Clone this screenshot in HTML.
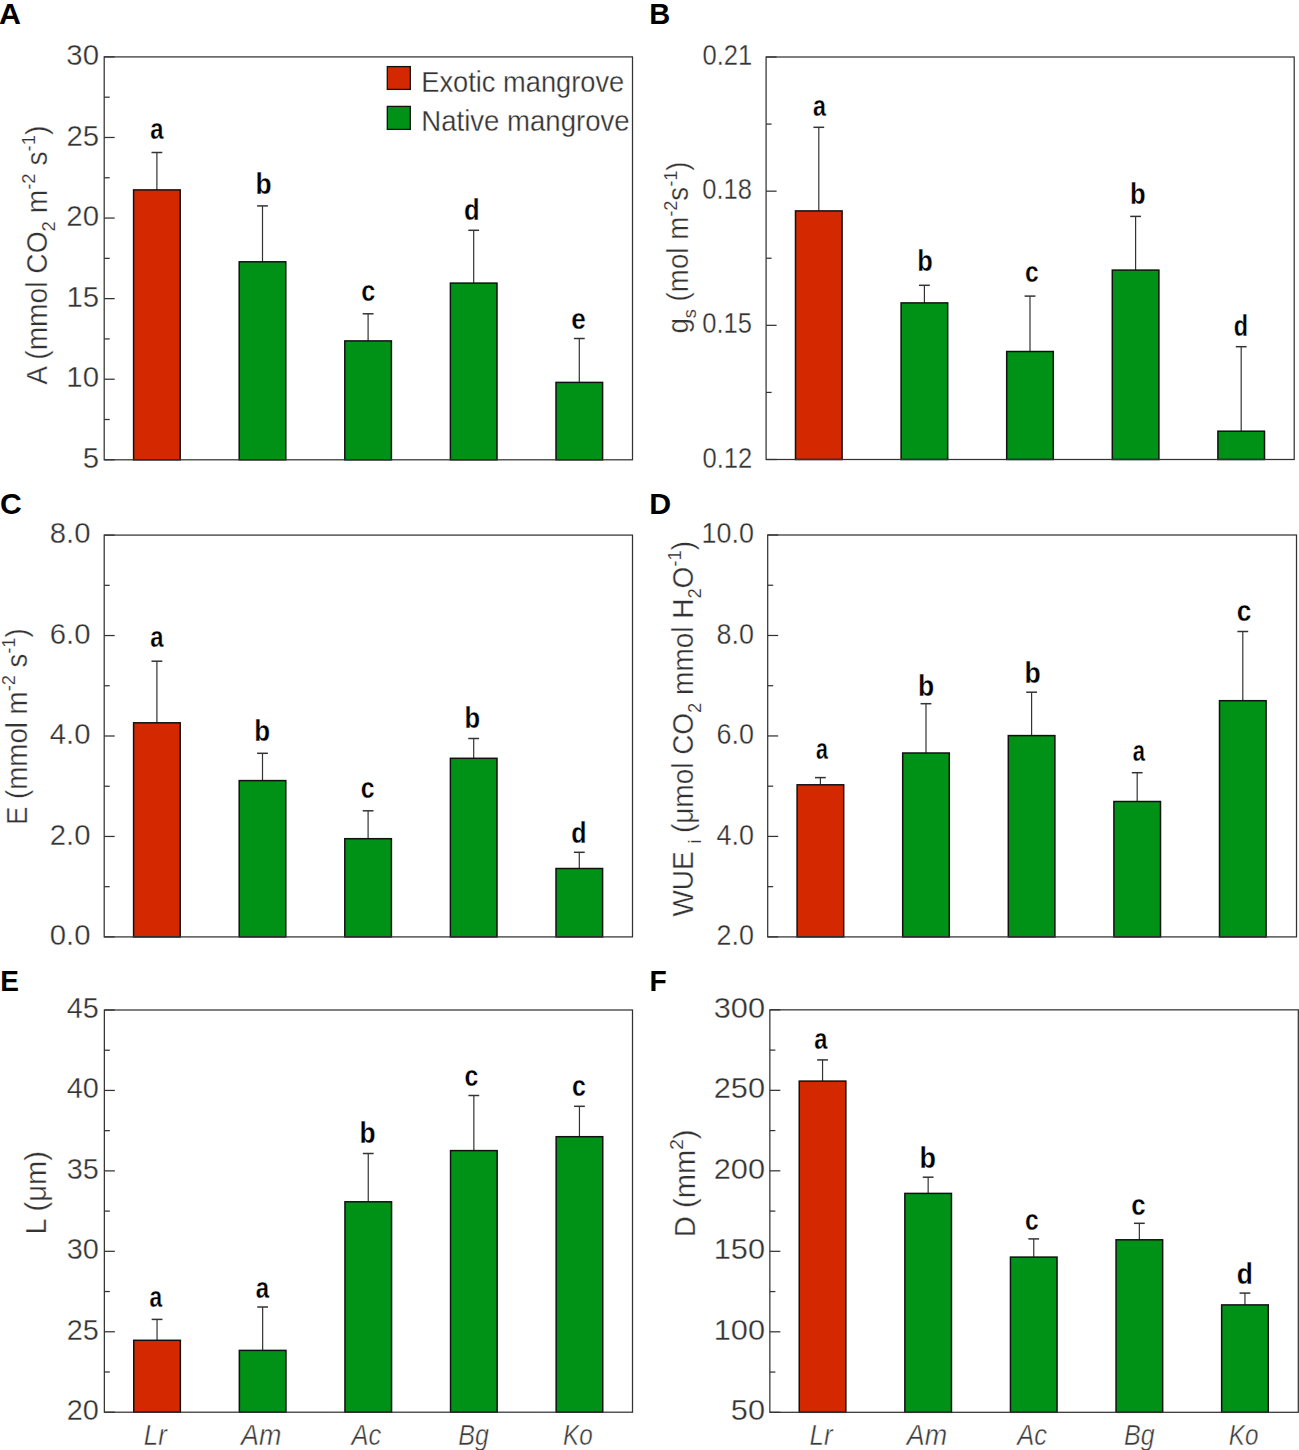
<!DOCTYPE html><html><head><meta charset="utf-8"><title>Figure</title><style>html,body{margin:0;padding:0;background:#fff;}svg{display:block;}.t{fill:#333;stroke:#fff;stroke-width:0.3px;}.ti{fill:#3a3a3a;stroke:#fff;stroke-width:0.45px;}</style></head><body>
<svg width="1299" height="1450" viewBox="0 0 1299 1450" font-family="Liberation Sans, sans-serif">
<rect x="0" y="0" width="1299" height="1450" fill="#ffffff"/>
<g id="panelA">
<line x1="156.90" y1="189.90" x2="156.90" y2="152.50" stroke="#333333" stroke-width="1.2"/>
<line x1="151.50" y1="152.50" x2="162.30" y2="152.50" stroke="#333333" stroke-width="1.5"/>
<rect x="133.60" y="189.90" width="46.60" height="269.90" fill="#d42800" stroke="#111" stroke-width="1.5"/>
<text x="150.20" y="138.61" font-size="29.5" font-weight="bold" fill="#000" stroke="#fff" stroke-width="0.3" textLength="13.25" lengthAdjust="spacingAndGlyphs">a</text>
<line x1="262.50" y1="261.80" x2="262.50" y2="205.90" stroke="#333333" stroke-width="1.2"/>
<line x1="257.10" y1="205.90" x2="267.90" y2="205.90" stroke="#333333" stroke-width="1.5"/>
<rect x="239.20" y="261.80" width="46.60" height="198.00" fill="#009216" stroke="#111" stroke-width="1.5"/>
<text x="255.46" y="193.71" font-size="29.5" font-weight="bold" fill="#000" stroke="#fff" stroke-width="0.3" textLength="16.12" lengthAdjust="spacingAndGlyphs">b</text>
<line x1="368.10" y1="340.90" x2="368.10" y2="313.80" stroke="#333333" stroke-width="1.2"/>
<line x1="362.70" y1="313.80" x2="373.50" y2="313.80" stroke="#333333" stroke-width="1.5"/>
<rect x="344.80" y="340.90" width="46.60" height="118.90" fill="#009216" stroke="#111" stroke-width="1.5"/>
<text x="361.22" y="301.21" font-size="29.5" font-weight="bold" fill="#000" stroke="#fff" stroke-width="0.3" textLength="14.02" lengthAdjust="spacingAndGlyphs">c</text>
<line x1="473.70" y1="283.10" x2="473.70" y2="230.30" stroke="#333333" stroke-width="1.2"/>
<line x1="468.30" y1="230.30" x2="479.10" y2="230.30" stroke="#333333" stroke-width="1.5"/>
<rect x="450.40" y="283.10" width="46.60" height="176.70" fill="#009216" stroke="#111" stroke-width="1.5"/>
<text x="464.05" y="219.91" font-size="29.5" font-weight="bold" fill="#000" stroke="#fff" stroke-width="0.3" textLength="15.64" lengthAdjust="spacingAndGlyphs">d</text>
<line x1="579.30" y1="382.40" x2="579.30" y2="338.50" stroke="#333333" stroke-width="1.2"/>
<line x1="573.90" y1="338.50" x2="584.70" y2="338.50" stroke="#333333" stroke-width="1.5"/>
<rect x="556.00" y="382.40" width="46.60" height="77.40" fill="#009216" stroke="#111" stroke-width="1.5"/>
<text x="571.18" y="329.21" font-size="29.5" font-weight="bold" fill="#000" stroke="#fff" stroke-width="0.3" textLength="14.51" lengthAdjust="spacingAndGlyphs">e</text>
<rect x="104.20" y="56.90" width="528.30" height="402.90" fill="none" stroke="#333333" stroke-width="1.25"/>
<line x1="104.20" y1="459.80" x2="114.70" y2="459.80" stroke="#333333" stroke-width="1.25"/>
<line x1="104.20" y1="419.51" x2="109.70" y2="419.51" stroke="#333333" stroke-width="1.25"/>
<line x1="104.20" y1="379.22" x2="114.70" y2="379.22" stroke="#333333" stroke-width="1.25"/>
<line x1="104.20" y1="338.93" x2="109.70" y2="338.93" stroke="#333333" stroke-width="1.25"/>
<line x1="104.20" y1="298.64" x2="114.70" y2="298.64" stroke="#333333" stroke-width="1.25"/>
<line x1="104.20" y1="258.35" x2="109.70" y2="258.35" stroke="#333333" stroke-width="1.25"/>
<line x1="104.20" y1="218.06" x2="114.70" y2="218.06" stroke="#333333" stroke-width="1.25"/>
<line x1="104.20" y1="177.77" x2="109.70" y2="177.77" stroke="#333333" stroke-width="1.25"/>
<line x1="104.20" y1="137.48" x2="114.70" y2="137.48" stroke="#333333" stroke-width="1.25"/>
<line x1="104.20" y1="97.19" x2="109.70" y2="97.19" stroke="#333333" stroke-width="1.25"/>
<line x1="104.20" y1="56.90" x2="114.70" y2="56.90" stroke="#333333" stroke-width="1.25"/>
<text x="99.13" y="468.00" font-size="29" text-anchor="end" class="t" textLength="16.33" lengthAdjust="spacingAndGlyphs">5</text>
<text x="99.05" y="387.42" font-size="29" text-anchor="end" class="t" textLength="32.67" lengthAdjust="spacingAndGlyphs">10</text>
<text x="99.13" y="306.84" font-size="29" text-anchor="end" class="t" textLength="32.67" lengthAdjust="spacingAndGlyphs">15</text>
<text x="99.05" y="226.26" font-size="29" text-anchor="end" class="t" textLength="32.67" lengthAdjust="spacingAndGlyphs">20</text>
<text x="99.13" y="145.68" font-size="29" text-anchor="end" class="t" textLength="32.67" lengthAdjust="spacingAndGlyphs">25</text>
<text x="99.05" y="65.10" font-size="29" text-anchor="end" class="t" textLength="32.67" lengthAdjust="spacingAndGlyphs">30</text>
</g>
<g id="panelB">
<line x1="818.80" y1="210.90" x2="818.80" y2="127.30" stroke="#333333" stroke-width="1.2"/>
<line x1="813.40" y1="127.30" x2="824.20" y2="127.30" stroke="#333333" stroke-width="1.5"/>
<rect x="795.50" y="210.90" width="46.60" height="248.60" fill="#d42800" stroke="#111" stroke-width="1.5"/>
<text x="812.92" y="115.81" font-size="29.5" font-weight="bold" fill="#000" stroke="#fff" stroke-width="0.3" textLength="12.93" lengthAdjust="spacingAndGlyphs">a</text>
<line x1="924.40" y1="302.90" x2="924.40" y2="285.30" stroke="#333333" stroke-width="1.2"/>
<line x1="919.00" y1="285.30" x2="929.80" y2="285.30" stroke="#333333" stroke-width="1.5"/>
<rect x="901.10" y="302.90" width="46.60" height="156.60" fill="#009216" stroke="#111" stroke-width="1.5"/>
<text x="917.13" y="270.51" font-size="29.5" font-weight="bold" fill="#000" stroke="#fff" stroke-width="0.3" textLength="15.52" lengthAdjust="spacingAndGlyphs">b</text>
<line x1="1030.00" y1="351.50" x2="1030.00" y2="296.10" stroke="#333333" stroke-width="1.2"/>
<line x1="1024.60" y1="296.10" x2="1035.40" y2="296.10" stroke="#333333" stroke-width="1.5"/>
<rect x="1006.70" y="351.50" width="46.60" height="108.00" fill="#009216" stroke="#111" stroke-width="1.5"/>
<text x="1024.94" y="282.21" font-size="29.5" font-weight="bold" fill="#000" stroke="#fff" stroke-width="0.3" textLength="13.68" lengthAdjust="spacingAndGlyphs">c</text>
<line x1="1135.60" y1="270.10" x2="1135.60" y2="216.40" stroke="#333333" stroke-width="1.2"/>
<line x1="1130.20" y1="216.40" x2="1141.00" y2="216.40" stroke="#333333" stroke-width="1.5"/>
<rect x="1112.30" y="270.10" width="46.60" height="189.40" fill="#009216" stroke="#111" stroke-width="1.5"/>
<text x="1130.11" y="204.11" font-size="29.5" font-weight="bold" fill="#000" stroke="#fff" stroke-width="0.3" textLength="15.64" lengthAdjust="spacingAndGlyphs">b</text>
<line x1="1241.20" y1="431.20" x2="1241.20" y2="346.70" stroke="#333333" stroke-width="1.2"/>
<line x1="1235.80" y1="346.70" x2="1246.60" y2="346.70" stroke="#333333" stroke-width="1.5"/>
<rect x="1217.90" y="431.20" width="46.60" height="28.30" fill="#009216" stroke="#111" stroke-width="1.5"/>
<text x="1233.84" y="335.91" font-size="29.5" font-weight="bold" fill="#000" stroke="#fff" stroke-width="0.3" textLength="14.30" lengthAdjust="spacingAndGlyphs">d</text>
<rect x="766.10" y="57.00" width="528.10" height="402.50" fill="none" stroke="#333333" stroke-width="1.25"/>
<line x1="766.10" y1="459.50" x2="776.60" y2="459.50" stroke="#333333" stroke-width="1.25"/>
<line x1="766.10" y1="392.42" x2="771.60" y2="392.42" stroke="#333333" stroke-width="1.25"/>
<line x1="766.10" y1="325.33" x2="776.60" y2="325.33" stroke="#333333" stroke-width="1.25"/>
<line x1="766.10" y1="258.25" x2="771.60" y2="258.25" stroke="#333333" stroke-width="1.25"/>
<line x1="766.10" y1="191.17" x2="776.60" y2="191.17" stroke="#333333" stroke-width="1.25"/>
<line x1="766.10" y1="124.08" x2="771.60" y2="124.08" stroke="#333333" stroke-width="1.25"/>
<line x1="766.10" y1="57.00" x2="776.60" y2="57.00" stroke="#333333" stroke-width="1.25"/>
<text x="752.18" y="467.50" font-size="29" text-anchor="end" class="t" textLength="49.71" lengthAdjust="spacingAndGlyphs">0.12</text>
<text x="751.97" y="333.33" font-size="29" text-anchor="end" class="t" textLength="49.71" lengthAdjust="spacingAndGlyphs">0.15</text>
<text x="752.01" y="199.17" font-size="29" text-anchor="end" class="t" textLength="49.71" lengthAdjust="spacingAndGlyphs">0.18</text>
<text x="752.15" y="65.00" font-size="29" text-anchor="end" class="t" textLength="49.71" lengthAdjust="spacingAndGlyphs">0.21</text>
</g>
<g id="panelC">
<line x1="156.90" y1="722.80" x2="156.90" y2="661.20" stroke="#333333" stroke-width="1.2"/>
<line x1="151.50" y1="661.20" x2="162.30" y2="661.20" stroke="#333333" stroke-width="1.5"/>
<rect x="133.60" y="722.80" width="46.60" height="214.10" fill="#d42800" stroke="#111" stroke-width="1.5"/>
<text x="150.20" y="646.91" font-size="29.5" font-weight="bold" fill="#000" stroke="#fff" stroke-width="0.3" textLength="13.25" lengthAdjust="spacingAndGlyphs">a</text>
<line x1="262.50" y1="780.60" x2="262.50" y2="753.30" stroke="#333333" stroke-width="1.2"/>
<line x1="257.10" y1="753.30" x2="267.90" y2="753.30" stroke="#333333" stroke-width="1.5"/>
<rect x="239.20" y="780.60" width="46.60" height="156.30" fill="#009216" stroke="#111" stroke-width="1.5"/>
<text x="254.19" y="740.51" font-size="29.5" font-weight="bold" fill="#000" stroke="#fff" stroke-width="0.3" textLength="15.88" lengthAdjust="spacingAndGlyphs">b</text>
<line x1="368.10" y1="838.70" x2="368.10" y2="810.80" stroke="#333333" stroke-width="1.2"/>
<line x1="362.70" y1="810.80" x2="373.50" y2="810.80" stroke="#333333" stroke-width="1.5"/>
<rect x="344.80" y="838.70" width="46.60" height="98.20" fill="#009216" stroke="#111" stroke-width="1.5"/>
<text x="360.83" y="798.11" font-size="29.5" font-weight="bold" fill="#000" stroke="#fff" stroke-width="0.3" textLength="13.80" lengthAdjust="spacingAndGlyphs">c</text>
<line x1="473.70" y1="758.30" x2="473.70" y2="738.50" stroke="#333333" stroke-width="1.2"/>
<line x1="468.30" y1="738.50" x2="479.10" y2="738.50" stroke="#333333" stroke-width="1.5"/>
<rect x="450.40" y="758.30" width="46.60" height="178.60" fill="#009216" stroke="#111" stroke-width="1.5"/>
<text x="464.41" y="727.51" font-size="29.5" font-weight="bold" fill="#000" stroke="#fff" stroke-width="0.3" textLength="15.64" lengthAdjust="spacingAndGlyphs">b</text>
<line x1="579.30" y1="868.50" x2="579.30" y2="852.30" stroke="#333333" stroke-width="1.2"/>
<line x1="573.90" y1="852.30" x2="584.70" y2="852.30" stroke="#333333" stroke-width="1.5"/>
<rect x="556.00" y="868.50" width="46.60" height="68.40" fill="#009216" stroke="#111" stroke-width="1.5"/>
<text x="571.17" y="843.11" font-size="29.5" font-weight="bold" fill="#000" stroke="#fff" stroke-width="0.3" textLength="15.27" lengthAdjust="spacingAndGlyphs">d</text>
<rect x="104.20" y="535.10" width="528.30" height="401.80" fill="none" stroke="#333333" stroke-width="1.25"/>
<line x1="104.20" y1="936.90" x2="114.70" y2="936.90" stroke="#333333" stroke-width="1.25"/>
<line x1="104.20" y1="886.67" x2="109.70" y2="886.67" stroke="#333333" stroke-width="1.25"/>
<line x1="104.20" y1="836.45" x2="114.70" y2="836.45" stroke="#333333" stroke-width="1.25"/>
<line x1="104.20" y1="786.23" x2="109.70" y2="786.23" stroke="#333333" stroke-width="1.25"/>
<line x1="104.20" y1="736.00" x2="114.70" y2="736.00" stroke="#333333" stroke-width="1.25"/>
<line x1="104.20" y1="685.77" x2="109.70" y2="685.77" stroke="#333333" stroke-width="1.25"/>
<line x1="104.20" y1="635.55" x2="114.70" y2="635.55" stroke="#333333" stroke-width="1.25"/>
<line x1="104.20" y1="585.33" x2="109.70" y2="585.33" stroke="#333333" stroke-width="1.25"/>
<line x1="104.20" y1="535.10" x2="114.70" y2="535.10" stroke="#333333" stroke-width="1.25"/>
<text x="90.44" y="945.10" font-size="29" text-anchor="end" class="t" textLength="40.72" lengthAdjust="spacingAndGlyphs">0.0</text>
<text x="90.44" y="844.65" font-size="29" text-anchor="end" class="t" textLength="40.72" lengthAdjust="spacingAndGlyphs">2.0</text>
<text x="90.44" y="744.20" font-size="29" text-anchor="end" class="t" textLength="40.72" lengthAdjust="spacingAndGlyphs">4.0</text>
<text x="90.44" y="643.75" font-size="29" text-anchor="end" class="t" textLength="40.72" lengthAdjust="spacingAndGlyphs">6.0</text>
<text x="90.44" y="543.30" font-size="29" text-anchor="end" class="t" textLength="40.72" lengthAdjust="spacingAndGlyphs">8.0</text>
</g>
<g id="panelD">
<line x1="820.40" y1="784.80" x2="820.40" y2="777.60" stroke="#333333" stroke-width="1.2"/>
<line x1="815.00" y1="777.60" x2="825.80" y2="777.60" stroke="#333333" stroke-width="1.5"/>
<rect x="797.10" y="784.80" width="46.60" height="152.10" fill="#d42800" stroke="#111" stroke-width="1.5"/>
<text x="815.97" y="759.11" font-size="29.5" font-weight="bold" fill="#000" stroke="#fff" stroke-width="0.3" textLength="11.89" lengthAdjust="spacingAndGlyphs">a</text>
<line x1="926.00" y1="753.00" x2="926.00" y2="703.70" stroke="#333333" stroke-width="1.2"/>
<line x1="920.60" y1="703.70" x2="931.40" y2="703.70" stroke="#333333" stroke-width="1.5"/>
<rect x="902.70" y="753.00" width="46.60" height="183.90" fill="#009216" stroke="#111" stroke-width="1.5"/>
<text x="918.05" y="695.81" font-size="29.5" font-weight="bold" fill="#000" stroke="#fff" stroke-width="0.3" textLength="16.24" lengthAdjust="spacingAndGlyphs">b</text>
<line x1="1031.60" y1="735.60" x2="1031.60" y2="692.20" stroke="#333333" stroke-width="1.2"/>
<line x1="1026.20" y1="692.20" x2="1037.00" y2="692.20" stroke="#333333" stroke-width="1.5"/>
<rect x="1008.30" y="735.60" width="46.60" height="201.30" fill="#009216" stroke="#111" stroke-width="1.5"/>
<text x="1024.55" y="682.61" font-size="29.5" font-weight="bold" fill="#000" stroke="#fff" stroke-width="0.3" textLength="16.24" lengthAdjust="spacingAndGlyphs">b</text>
<line x1="1137.20" y1="801.50" x2="1137.20" y2="772.70" stroke="#333333" stroke-width="1.2"/>
<line x1="1131.80" y1="772.70" x2="1142.60" y2="772.70" stroke="#333333" stroke-width="1.5"/>
<rect x="1113.90" y="801.50" width="46.60" height="135.40" fill="#009216" stroke="#111" stroke-width="1.5"/>
<text x="1132.76" y="760.51" font-size="29.5" font-weight="bold" fill="#000" stroke="#fff" stroke-width="0.3" textLength="12.20" lengthAdjust="spacingAndGlyphs">a</text>
<line x1="1242.80" y1="700.70" x2="1242.80" y2="631.50" stroke="#333333" stroke-width="1.2"/>
<line x1="1237.40" y1="631.50" x2="1248.20" y2="631.50" stroke="#333333" stroke-width="1.5"/>
<rect x="1219.50" y="700.70" width="46.60" height="236.20" fill="#009216" stroke="#111" stroke-width="1.5"/>
<text x="1236.77" y="620.91" font-size="29.5" font-weight="bold" fill="#000" stroke="#fff" stroke-width="0.3" textLength="14.59" lengthAdjust="spacingAndGlyphs">c</text>
<rect x="767.70" y="535.00" width="528.80" height="401.90" fill="none" stroke="#333333" stroke-width="1.25"/>
<line x1="767.70" y1="936.90" x2="778.20" y2="936.90" stroke="#333333" stroke-width="1.25"/>
<line x1="767.70" y1="886.66" x2="773.20" y2="886.66" stroke="#333333" stroke-width="1.25"/>
<line x1="767.70" y1="836.42" x2="778.20" y2="836.42" stroke="#333333" stroke-width="1.25"/>
<line x1="767.70" y1="786.19" x2="773.20" y2="786.19" stroke="#333333" stroke-width="1.25"/>
<line x1="767.70" y1="735.95" x2="778.20" y2="735.95" stroke="#333333" stroke-width="1.25"/>
<line x1="767.70" y1="685.71" x2="773.20" y2="685.71" stroke="#333333" stroke-width="1.25"/>
<line x1="767.70" y1="635.48" x2="778.20" y2="635.48" stroke="#333333" stroke-width="1.25"/>
<line x1="767.70" y1="585.24" x2="773.20" y2="585.24" stroke="#333333" stroke-width="1.25"/>
<line x1="767.70" y1="535.00" x2="778.20" y2="535.00" stroke="#333333" stroke-width="1.25"/>
<text x="753.95" y="945.10" font-size="29" text-anchor="end" class="t" textLength="37.43" lengthAdjust="spacingAndGlyphs">2.0</text>
<text x="753.95" y="844.62" font-size="29" text-anchor="end" class="t" textLength="37.43" lengthAdjust="spacingAndGlyphs">4.0</text>
<text x="753.95" y="744.15" font-size="29" text-anchor="end" class="t" textLength="37.43" lengthAdjust="spacingAndGlyphs">6.0</text>
<text x="753.95" y="643.68" font-size="29" text-anchor="end" class="t" textLength="37.43" lengthAdjust="spacingAndGlyphs">8.0</text>
<text x="753.95" y="543.20" font-size="29" text-anchor="end" class="t" textLength="52.40" lengthAdjust="spacingAndGlyphs">10.0</text>
</g>
<g id="panelE">
<line x1="157.05" y1="1340.30" x2="157.05" y2="1319.40" stroke="#333333" stroke-width="1.2"/>
<line x1="151.65" y1="1319.40" x2="162.45" y2="1319.40" stroke="#333333" stroke-width="1.5"/>
<rect x="133.75" y="1340.30" width="46.60" height="71.90" fill="#d42800" stroke="#111" stroke-width="1.5"/>
<text x="149.54" y="1307.21" font-size="29.5" font-weight="bold" fill="#000" stroke="#fff" stroke-width="0.3" textLength="12.62" lengthAdjust="spacingAndGlyphs">a</text>
<line x1="262.65" y1="1350.40" x2="262.65" y2="1307.00" stroke="#333333" stroke-width="1.2"/>
<line x1="257.25" y1="1307.00" x2="268.05" y2="1307.00" stroke="#333333" stroke-width="1.5"/>
<rect x="239.35" y="1350.40" width="46.60" height="61.80" fill="#009216" stroke="#111" stroke-width="1.5"/>
<text x="255.80" y="1297.71" font-size="29.5" font-weight="bold" fill="#000" stroke="#fff" stroke-width="0.3" textLength="13.35" lengthAdjust="spacingAndGlyphs">a</text>
<line x1="368.25" y1="1201.80" x2="368.25" y2="1153.50" stroke="#333333" stroke-width="1.2"/>
<line x1="362.85" y1="1153.50" x2="373.65" y2="1153.50" stroke="#333333" stroke-width="1.5"/>
<rect x="344.95" y="1201.80" width="46.60" height="210.40" fill="#009216" stroke="#111" stroke-width="1.5"/>
<text x="359.46" y="1142.81" font-size="29.5" font-weight="bold" fill="#000" stroke="#fff" stroke-width="0.3" textLength="16.12" lengthAdjust="spacingAndGlyphs">b</text>
<line x1="473.85" y1="1150.60" x2="473.85" y2="1095.50" stroke="#333333" stroke-width="1.2"/>
<line x1="468.45" y1="1095.50" x2="479.25" y2="1095.50" stroke="#333333" stroke-width="1.5"/>
<rect x="450.55" y="1150.60" width="46.60" height="261.60" fill="#009216" stroke="#111" stroke-width="1.5"/>
<text x="464.53" y="1085.61" font-size="29.5" font-weight="bold" fill="#000" stroke="#fff" stroke-width="0.3" textLength="13.80" lengthAdjust="spacingAndGlyphs">c</text>
<line x1="579.45" y1="1136.70" x2="579.45" y2="1106.30" stroke="#333333" stroke-width="1.2"/>
<line x1="574.05" y1="1106.30" x2="584.85" y2="1106.30" stroke="#333333" stroke-width="1.5"/>
<rect x="556.15" y="1136.70" width="46.60" height="275.50" fill="#009216" stroke="#111" stroke-width="1.5"/>
<text x="571.92" y="1095.51" font-size="29.5" font-weight="bold" fill="#000" stroke="#fff" stroke-width="0.3" textLength="13.91" lengthAdjust="spacingAndGlyphs">c</text>
<rect x="104.35" y="1010.00" width="528.15" height="402.20" fill="none" stroke="#333333" stroke-width="1.25"/>
<line x1="104.35" y1="1412.20" x2="114.85" y2="1412.20" stroke="#333333" stroke-width="1.25"/>
<line x1="104.35" y1="1371.98" x2="109.85" y2="1371.98" stroke="#333333" stroke-width="1.25"/>
<line x1="104.35" y1="1331.76" x2="114.85" y2="1331.76" stroke="#333333" stroke-width="1.25"/>
<line x1="104.35" y1="1291.54" x2="109.85" y2="1291.54" stroke="#333333" stroke-width="1.25"/>
<line x1="104.35" y1="1251.32" x2="114.85" y2="1251.32" stroke="#333333" stroke-width="1.25"/>
<line x1="104.35" y1="1211.10" x2="109.85" y2="1211.10" stroke="#333333" stroke-width="1.25"/>
<line x1="104.35" y1="1170.88" x2="114.85" y2="1170.88" stroke="#333333" stroke-width="1.25"/>
<line x1="104.35" y1="1130.66" x2="109.85" y2="1130.66" stroke="#333333" stroke-width="1.25"/>
<line x1="104.35" y1="1090.44" x2="114.85" y2="1090.44" stroke="#333333" stroke-width="1.25"/>
<line x1="104.35" y1="1050.22" x2="109.85" y2="1050.22" stroke="#333333" stroke-width="1.25"/>
<line x1="104.35" y1="1010.00" x2="114.85" y2="1010.00" stroke="#333333" stroke-width="1.25"/>
<text x="98.83" y="1420.10" font-size="29" text-anchor="end" class="t" textLength="32.07" lengthAdjust="spacingAndGlyphs">20</text>
<text x="98.91" y="1339.66" font-size="29" text-anchor="end" class="t" textLength="32.07" lengthAdjust="spacingAndGlyphs">25</text>
<text x="98.83" y="1259.22" font-size="29" text-anchor="end" class="t" textLength="32.07" lengthAdjust="spacingAndGlyphs">30</text>
<text x="98.91" y="1178.78" font-size="29" text-anchor="end" class="t" textLength="32.07" lengthAdjust="spacingAndGlyphs">35</text>
<text x="98.83" y="1098.34" font-size="29" text-anchor="end" class="t" textLength="32.07" lengthAdjust="spacingAndGlyphs">40</text>
<text x="98.91" y="1017.90" font-size="29" text-anchor="end" class="t" textLength="32.07" lengthAdjust="spacingAndGlyphs">45</text>
</g>
<g id="panelF">
<line x1="822.55" y1="1081.10" x2="822.55" y2="1059.90" stroke="#333333" stroke-width="1.2"/>
<line x1="817.15" y1="1059.90" x2="827.95" y2="1059.90" stroke="#333333" stroke-width="1.5"/>
<rect x="799.25" y="1081.10" width="46.60" height="331.20" fill="#d42800" stroke="#111" stroke-width="1.5"/>
<text x="814.31" y="1049.11" font-size="29.5" font-weight="bold" fill="#000" stroke="#fff" stroke-width="0.3" textLength="13.14" lengthAdjust="spacingAndGlyphs">a</text>
<line x1="928.15" y1="1193.40" x2="928.15" y2="1177.20" stroke="#333333" stroke-width="1.2"/>
<line x1="922.75" y1="1177.20" x2="933.55" y2="1177.20" stroke="#333333" stroke-width="1.5"/>
<rect x="904.85" y="1193.40" width="46.60" height="218.90" fill="#009216" stroke="#111" stroke-width="1.5"/>
<text x="919.42" y="1167.51" font-size="29.5" font-weight="bold" fill="#000" stroke="#fff" stroke-width="0.3" textLength="16.49" lengthAdjust="spacingAndGlyphs">b</text>
<line x1="1033.75" y1="1257.10" x2="1033.75" y2="1238.90" stroke="#333333" stroke-width="1.2"/>
<line x1="1028.35" y1="1238.90" x2="1039.15" y2="1238.90" stroke="#333333" stroke-width="1.5"/>
<rect x="1010.45" y="1257.10" width="46.60" height="155.20" fill="#009216" stroke="#111" stroke-width="1.5"/>
<text x="1024.94" y="1230.21" font-size="29.5" font-weight="bold" fill="#000" stroke="#fff" stroke-width="0.3" textLength="13.68" lengthAdjust="spacingAndGlyphs">c</text>
<line x1="1139.35" y1="1239.80" x2="1139.35" y2="1223.30" stroke="#333333" stroke-width="1.2"/>
<line x1="1133.95" y1="1223.30" x2="1144.75" y2="1223.30" stroke="#333333" stroke-width="1.5"/>
<rect x="1116.05" y="1239.80" width="46.60" height="172.50" fill="#009216" stroke="#111" stroke-width="1.5"/>
<text x="1131.19" y="1215.21" font-size="29.5" font-weight="bold" fill="#000" stroke="#fff" stroke-width="0.3" textLength="14.37" lengthAdjust="spacingAndGlyphs">c</text>
<line x1="1244.95" y1="1304.90" x2="1244.95" y2="1293.10" stroke="#333333" stroke-width="1.2"/>
<line x1="1239.55" y1="1293.10" x2="1250.35" y2="1293.10" stroke="#333333" stroke-width="1.5"/>
<rect x="1221.65" y="1304.90" width="46.60" height="107.40" fill="#009216" stroke="#111" stroke-width="1.5"/>
<text x="1236.82" y="1283.71" font-size="29.5" font-weight="bold" fill="#000" stroke="#fff" stroke-width="0.3" textLength="16.12" lengthAdjust="spacingAndGlyphs">d</text>
<rect x="769.85" y="1009.85" width="528.45" height="402.45" fill="none" stroke="#333333" stroke-width="1.25"/>
<line x1="769.85" y1="1412.30" x2="780.35" y2="1412.30" stroke="#333333" stroke-width="1.25"/>
<line x1="769.85" y1="1372.06" x2="775.35" y2="1372.06" stroke="#333333" stroke-width="1.25"/>
<line x1="769.85" y1="1331.81" x2="780.35" y2="1331.81" stroke="#333333" stroke-width="1.25"/>
<line x1="769.85" y1="1291.57" x2="775.35" y2="1291.57" stroke="#333333" stroke-width="1.25"/>
<line x1="769.85" y1="1251.32" x2="780.35" y2="1251.32" stroke="#333333" stroke-width="1.25"/>
<line x1="769.85" y1="1211.08" x2="775.35" y2="1211.08" stroke="#333333" stroke-width="1.25"/>
<line x1="769.85" y1="1170.83" x2="780.35" y2="1170.83" stroke="#333333" stroke-width="1.25"/>
<line x1="769.85" y1="1130.59" x2="775.35" y2="1130.59" stroke="#333333" stroke-width="1.25"/>
<line x1="769.85" y1="1090.34" x2="780.35" y2="1090.34" stroke="#333333" stroke-width="1.25"/>
<line x1="769.85" y1="1050.10" x2="775.35" y2="1050.10" stroke="#333333" stroke-width="1.25"/>
<line x1="769.85" y1="1009.85" x2="780.35" y2="1009.85" stroke="#333333" stroke-width="1.25"/>
<text x="765.00" y="1420.10" font-size="29" text-anchor="end" class="t" textLength="34.18" lengthAdjust="spacingAndGlyphs">50</text>
<text x="765.00" y="1339.61" font-size="29" text-anchor="end" class="t" textLength="51.27" lengthAdjust="spacingAndGlyphs">100</text>
<text x="765.00" y="1259.12" font-size="29" text-anchor="end" class="t" textLength="51.27" lengthAdjust="spacingAndGlyphs">150</text>
<text x="765.00" y="1178.63" font-size="29" text-anchor="end" class="t" textLength="51.27" lengthAdjust="spacingAndGlyphs">200</text>
<text x="765.00" y="1098.14" font-size="29" text-anchor="end" class="t" textLength="51.27" lengthAdjust="spacingAndGlyphs">250</text>
<text x="765.00" y="1017.65" font-size="29" text-anchor="end" class="t" textLength="51.27" lengthAdjust="spacingAndGlyphs">300</text>
</g>
<text x="-0.96" y="23.9" font-size="29.8" font-weight="bold" fill="#000" textLength="21.96" lengthAdjust="spacingAndGlyphs">A</text>
<text x="649.36" y="24.0" font-size="29.8" font-weight="bold" fill="#000" textLength="20.96" lengthAdjust="spacingAndGlyphs">B</text>
<text x="-0.04" y="514.0" font-size="29.8" font-weight="bold" fill="#000" textLength="21.76" lengthAdjust="spacingAndGlyphs">C</text>
<text x="649.27" y="513.8" font-size="29.8" font-weight="bold" fill="#000" textLength="21.90" lengthAdjust="spacingAndGlyphs">D</text>
<text x="0.33" y="990.9" font-size="29.8" font-weight="bold" fill="#000" textLength="18.67" lengthAdjust="spacingAndGlyphs">E</text>
<text x="649.61" y="990.8" font-size="29.8" font-weight="bold" fill="#000" textLength="17.22" lengthAdjust="spacingAndGlyphs">F</text>
<rect x="387.3" y="66.6" width="23" height="22.8" fill="#d42800" stroke="#111" stroke-width="1.3"/>
<rect x="387.3" y="106.4" width="23" height="23" fill="#009216" stroke="#111" stroke-width="1.3"/>
<text x="421.26" y="91.5" font-size="29.5" class="t" textLength="202.95" lengthAdjust="spacingAndGlyphs">Exotic mangrove</text>
<text x="421.24" y="130.5" font-size="29.5" class="t" textLength="208.39" lengthAdjust="spacingAndGlyphs">Native mangrove</text>
<text x="143.80" y="1444.6" font-size="30" font-style="italic" class="ti" textLength="23.02" lengthAdjust="spacingAndGlyphs">Lr</text>
<text x="241.03" y="1444.6" font-size="30" font-style="italic" class="ti" textLength="40.32" lengthAdjust="spacingAndGlyphs">Am</text>
<text x="351.46" y="1444.6" font-size="30" font-style="italic" class="ti" textLength="29.83" lengthAdjust="spacingAndGlyphs">Ac</text>
<text x="458.33" y="1444.6" font-size="30" font-style="italic" class="ti" textLength="30.59" lengthAdjust="spacingAndGlyphs">Bg</text>
<text x="563.06" y="1444.6" font-size="30" font-style="italic" class="ti" textLength="29.61" lengthAdjust="spacingAndGlyphs">Ko</text>
<text x="809.50" y="1444.6" font-size="30" font-style="italic" class="ti" textLength="23.02" lengthAdjust="spacingAndGlyphs">Lr</text>
<text x="906.73" y="1444.6" font-size="30" font-style="italic" class="ti" textLength="40.32" lengthAdjust="spacingAndGlyphs">Am</text>
<text x="1017.16" y="1444.6" font-size="30" font-style="italic" class="ti" textLength="29.83" lengthAdjust="spacingAndGlyphs">Ac</text>
<text x="1124.03" y="1444.6" font-size="30" font-style="italic" class="ti" textLength="30.59" lengthAdjust="spacingAndGlyphs">Bg</text>
<text x="1228.76" y="1444.6" font-size="30" font-style="italic" class="ti" textLength="29.61" lengthAdjust="spacingAndGlyphs">Ko</text>
<text transform="translate(46.7,384.8) rotate(-90)" x="0" y="0" font-size="29" class="t" textLength="259.1" lengthAdjust="spacingAndGlyphs">A (mmol CO<tspan font-size="19" dy="8" style="stroke-width:0.15px">2</tspan><tspan dy="-8"> m</tspan><tspan font-size="19" dy="-11.5" style="stroke-width:0.15px">-2</tspan><tspan dy="11.5"> s</tspan><tspan font-size="19" dy="-11.5" style="stroke-width:0.15px">-1</tspan><tspan dy="11.5">)</tspan></text>
<text transform="translate(688.1,333.6) rotate(-90)" x="0" y="0" font-size="29" class="t" textLength="172.2" lengthAdjust="spacingAndGlyphs">g<tspan font-size="19" dy="8" style="stroke-width:0.15px">s</tspan><tspan dy="-8"> (mol m</tspan><tspan font-size="19" dy="-11.5" style="stroke-width:0.15px">-2</tspan><tspan dy="11.5">s</tspan><tspan font-size="19" dy="-11.5" style="stroke-width:0.15px">-1</tspan><tspan dy="11.5">)</tspan></text>
<text transform="translate(26.8,825.0) rotate(-90)" x="0" y="0" font-size="29" class="t" textLength="196.60000000000002" lengthAdjust="spacingAndGlyphs">E (mmol m<tspan font-size="19" dy="-11.5" style="stroke-width:0.15px">-2</tspan><tspan dy="11.5"> s</tspan><tspan font-size="19" dy="-11.5" style="stroke-width:0.15px">-1</tspan><tspan dy="11.5">)</tspan></text>
<text transform="translate(692.6,916.5999999999999) rotate(-90)" x="0" y="0" font-size="29" class="t" textLength="375.6" lengthAdjust="spacingAndGlyphs">WUE <tspan font-size="19" dy="8" style="stroke-width:0.15px">i</tspan><tspan dy="-8" font-size="24"> </tspan><tspan>(μmol CO</tspan><tspan font-size="19" dy="8" style="stroke-width:0.15px">2</tspan><tspan dy="-8"> mmol H</tspan><tspan font-size="19" dy="8" style="stroke-width:0.15px">2</tspan><tspan dy="-8">O</tspan><tspan font-size="19" dy="-11.5" style="stroke-width:0.15px">-1</tspan><tspan dy="11.5">)</tspan></text>
<text transform="translate(45.8,1234.6) rotate(-90)" x="0" y="0" font-size="29" class="t" textLength="83.6" lengthAdjust="spacingAndGlyphs">L (μm)</text>
<text transform="translate(694.9,1237.1999999999998) rotate(-90)" x="0" y="0" font-size="29" class="t" textLength="107.80000000000001" lengthAdjust="spacingAndGlyphs">D (mm<tspan font-size="19" dy="-11.5" style="stroke-width:0.15px">2</tspan><tspan dy="11.5">)</tspan></text>
</svg></body></html>
